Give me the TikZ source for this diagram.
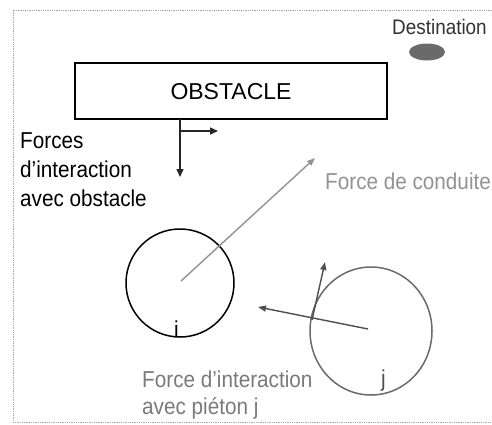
\documentclass[tikz,border=0pt]{standalone}
\usepackage{fontspec}
\setmainfont{Liberation Sans}[FakeStretch=0.9]
\newfontfamily\widefont{Liberation Sans}
\usetikzlibrary{arrows.meta,shapes.geometric}
\definecolor{lgray}{HTML}{929292}
\definecolor{mgray}{HTML}{6A6A6A}
\definecolor{tgray}{HTML}{7A7A7A}
\definecolor{dgray}{HTML}{505050}
\tikzset{
  lbl/.style={inner sep=0pt, anchor=base west, font=\fontsize{23}{27}\selectfont},
  frame/.style={draw=gray!70, line width=0.8pt, densely dotted},
  obsbox/.style={draw=black, line width=1.8pt, minimum width=312pt, minimum height=56pt, inner sep=0pt, font=\widefont\fontsize{23}{27}\selectfont},
  obsarrow/.style={draw=black!85, line width=1.5pt, -{Triangle[length=8pt,width=7pt]}},
  drivearrow/.style={draw=lgray, line width=1.4pt, -{Triangle[length=8pt,width=6pt]}},
  jarrow/.style={draw=dgray, line width=1.4pt, -{Triangle[length=8pt,width=6pt]}},
  ped/.style={line width=1.5pt, inner sep=0pt},
}
\begin{document}
\begin{tikzpicture}[x=1pt,y=-1pt]
\useasboundingbox (0,0) rectangle (492,424);
% frame
\draw[frame] (492,10) -- (13,10) -- (13,422) -- (492,422);
% destination
\node[lbl, text=black!80, font=\fontsize{21}{25}\selectfont] (dest) at (392,34) {Destination};
\node[ellipse, fill=mgray, minimum width=36pt, minimum height=17pt, inner sep=0pt] (goal) at (427,52) {};
% obstacle
\node[obsbox, text depth=0pt, text height=17pt] (obs) at (231,91) {OBSTACLE};
\coordinate (o1) at (180,119);
\coordinate (o2) at (180,131);
\coordinate (odown) at (180,177);
\coordinate (oright) at (218,131);
\draw[obsarrow] (o1) -- (odown);
\draw[obsarrow] (o2) -- (oright);
\node[lbl] (f1) at (20,148) {Forces};
\node[lbl] (f2) at (20,177) {d’interaction};
\node[lbl] (f3) at (20,206) {avec obstacle};
% pedestrians
\node[ped, circle, draw=black, minimum size=108pt] (pi) at (180,283) {};
\node[ped, ellipse, draw=mgray, minimum width=122pt, minimum height=128pt] (pj) at (371,331) {};
\node[lbl, text=black] (li) at (174,337) {i};
\node[lbl, text=dgray] (lj) at (381,386) {j};
% driving force
\coordinate (ci) at (181,281);
\coordinate (dtip) at (315,158);
\draw[drivearrow] (ci) -- (dtip);
\node[lbl, text=lgray] (drive) at (325,189) {Force de conduite};
% interaction with j
\coordinate (cj) at (368,329);
\coordinate (jtip) at (258,307);
\coordinate (vs) at (312,320);
\coordinate (vtip) at (325,262);
\draw[jarrow] (cj) -- (jtip);
\draw[jarrow] (vs) -- (vtip);
\node[lbl, text=tgray] (int1) at (142,387) {Force d’interaction};
\node[lbl, text=tgray] (int2) at (142,414) {avec piéton j};
\end{tikzpicture}
\end{document}
